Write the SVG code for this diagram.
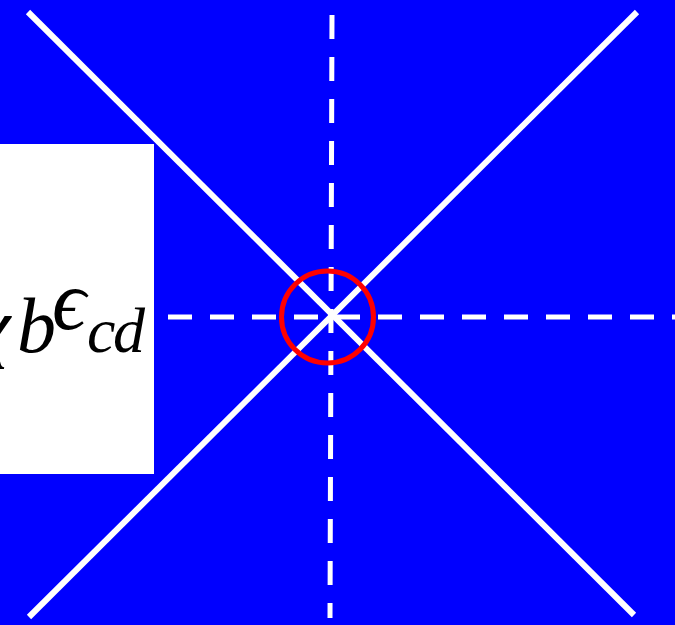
<svg xmlns="http://www.w3.org/2000/svg" width="675" height="625" viewBox="0 0 675 625">
<style>
.solid{stroke:#fff;stroke-width:6;fill:none;stroke-linecap:butt}
.dash{stroke:#fff;stroke-width:5;fill:none;stroke-dasharray:24 18}
.lbl{font-family:"Liberation Serif","DejaVu Serif",serif;font-style:italic;fill:#000}
</style>
<rect width="675" height="625" fill="#0000ff"/>
<g id="label">
<rect x="0" y="144" width="154" height="330" fill="#fff"/>
<text class="lbl" font-size="78"><tspan x="-24" y="352">χ</tspan><tspan x="17" y="352">b</tspan><tspan x="52" y="329" font-size="84">ϵ</tspan><tspan x="87" y="352" font-size="64">c</tspan><tspan x="113" y="352" font-size="64">d</tspan></text>
</g>
<g id="connectors">
<line class="solid" x1="28" y1="12" x2="634" y2="615"/>
<line class="solid" x1="637" y1="12" x2="29" y2="617"/>
<line class="dash" x1="332" y1="15" x2="330" y2="618"/>
<line class="dash" x1="168" y1="317" x2="675" y2="317"/>
</g>
<g id="center">
<circle cx="327.5" cy="317" r="46" fill="none" stroke="#ff0000" stroke-width="5"/>
</g>
</svg>
